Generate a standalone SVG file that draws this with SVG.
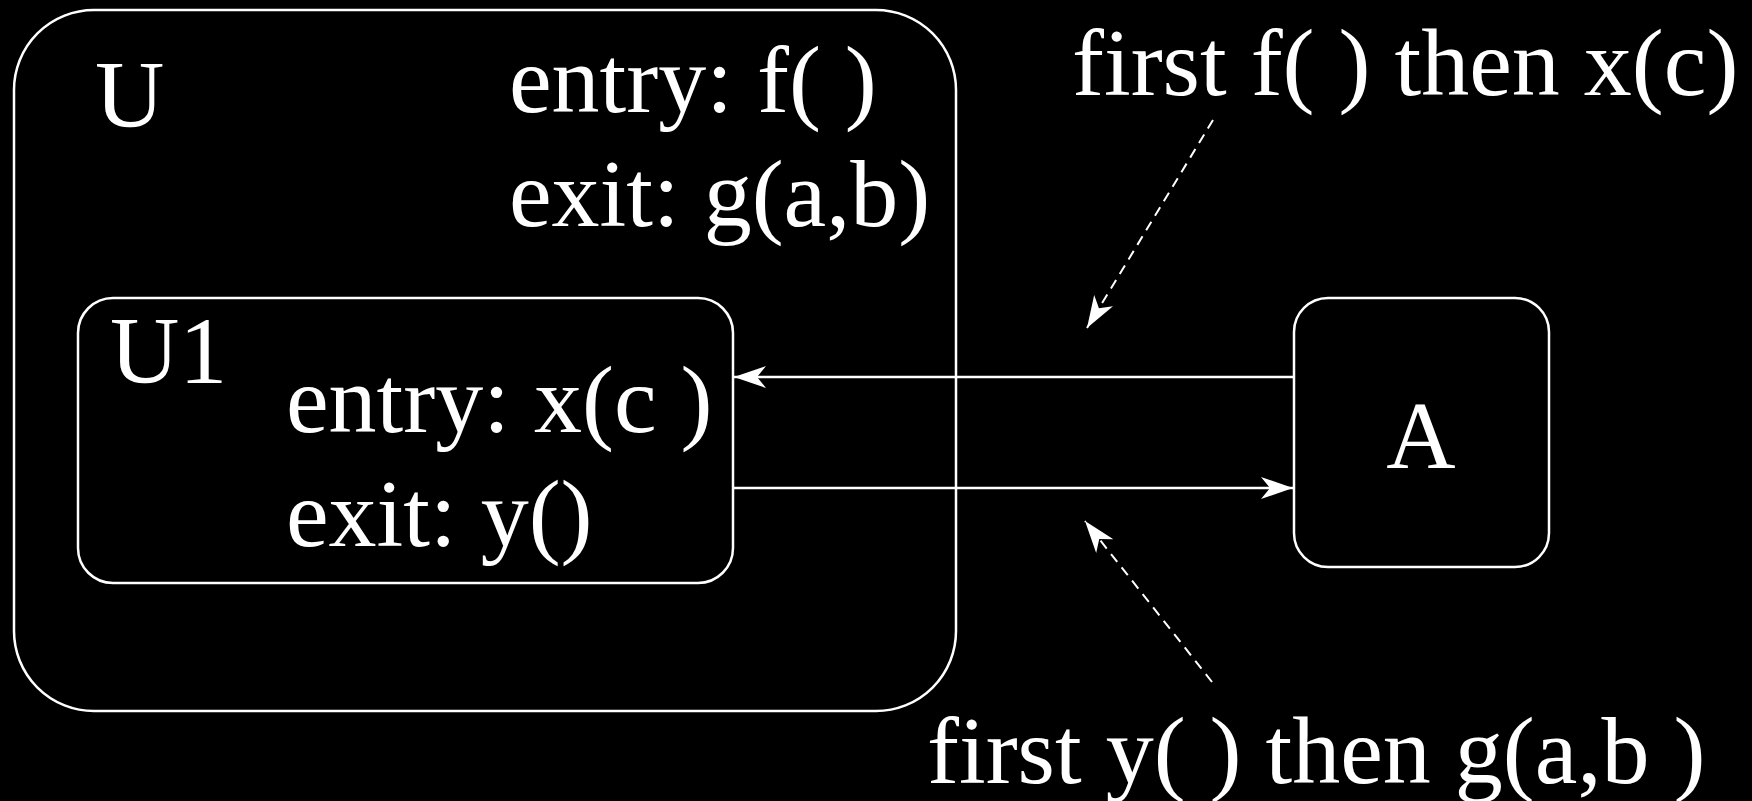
<svg xmlns="http://www.w3.org/2000/svg" width="1752" height="801" viewBox="0 0 1752 801">
  <style>
    .box { fill: none; stroke: #ffffff; stroke-width: 2.5; }
    .lbl { fill: #ffffff; font-family: "Liberation Serif", "Times New Roman", serif; font-size: 96px; }
    .conn { fill: none; stroke: #ffffff; stroke-width: 2.5; }
    .dash { stroke-dasharray: 10 7; stroke-width: 2; }
  </style>
  <defs>
    <marker id="arr" viewBox="0 0 32 22" refX="32" refY="11" markerWidth="32" markerHeight="22" markerUnits="userSpaceOnUse" orient="auto">
      <path d="M32,11 L0,0 L9,11 L0,22 Z" fill="#ffffff"/>
    </marker>
  </defs>
  <rect x="0" y="0" width="1752" height="801" fill="#000000"/>

  <g id="node-U">
    <rect class="box" x="14" y="10" width="942" height="701" rx="80" ry="80"/>
    <text class="lbl" x="95" y="127">U</text>
    <text class="lbl" x="509" y="112">entry: f( )</text>
    <text class="lbl" x="509" y="226">exit: g(a,b)</text>
  </g>

  <g id="node-U1">
    <rect class="box" x="78" y="298" width="655" height="285" rx="35" ry="35"/>
    <text class="lbl" x="110" y="383">U1</text>
    <text class="lbl" x="286" y="432">entry: x(c )</text>
    <text class="lbl" x="286" y="546">exit: y()</text>
  </g>

  <g id="node-A">
    <rect class="box" x="1294" y="298" width="255" height="269" rx="34" ry="34"/>
    <text class="lbl" x="1421" y="468" text-anchor="middle">A</text>
  </g>

  <g id="labels">
    <text class="lbl" x="1072" y="95">first f( ) then x(c)</text>
    <text class="lbl" x="927" y="783">first y( ) then g(a,b )</text>
  </g>

  <g id="connectors">
    <line class="conn" x1="1294" y1="377" x2="734" y2="377" marker-end="url(#arr)"/>
    <line class="conn" x1="733" y1="488" x2="1293" y2="488" marker-end="url(#arr)"/>
    <line class="conn dash" x1="1213" y1="120" x2="1087" y2="328" marker-end="url(#arr)"/>
    <line class="conn dash" x1="1212" y1="682" x2="1085" y2="521" marker-end="url(#arr)"/>
  </g>
</svg>
